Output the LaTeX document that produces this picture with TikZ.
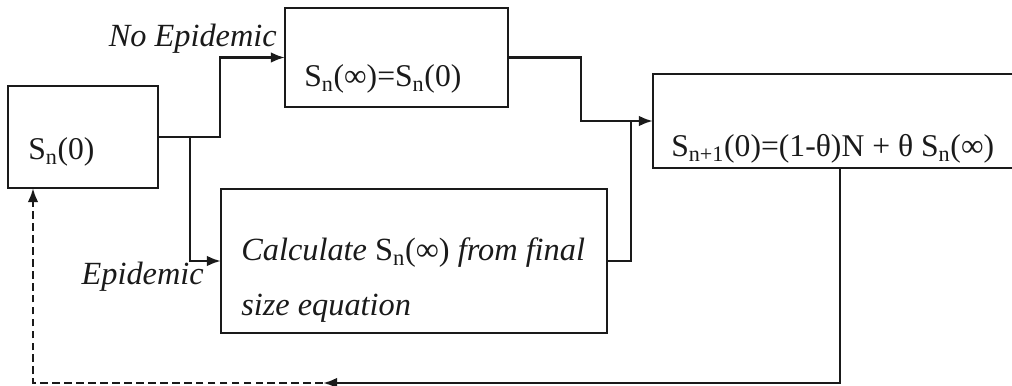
\documentclass[tikz,border=0pt]{standalone}
\usepackage{fontspec}
\setmainfont{Liberation Serif}
\usetikzlibrary{arrows.meta,calc}
\definecolor{ink}{HTML}{1A1A1A}
\newcommand{\px}{0.025cm}

\begin{document}
\begin{tikzpicture}[x=\px,y=-\px,>={Latex[length=10pt,width=7.5pt]},line width=1.8pt,every node/.style={font=\fontsize{22.5}{27}\selectfont,text=ink},box/.style={draw=ink,line width=1.8pt,outer sep=0pt,inner sep=0pt},txt/.style={anchor=base west,inner sep=0pt},lbl/.style={anchor=base east,inner sep=0pt,font=\fontsize{23}{27}\selectfont\itshape},flow/.style={->,draw=ink,line width=1.8pt},fb/.style={->,draw=ink,line width=1.8pt,dash pattern=on 5.5pt off 3pt}]
\path[use as bounding box] (0,0) rectangle (1012,386);

\node[box,minimum width=150*\px,minimum height=102*\px] (start) at (83,137) {};
\node[box,minimum width=223*\px,minimum height=99*\px] (noepi) at (396.5,57.5) {};
\node[box,minimum width=386*\px,minimum height=144*\px] (finalsize) at (414,261) {};
\node[box,minimum width=374*\px,minimum height=94*\px] (next) at (840,121) {};

\node[txt] (starttxt) at (27,160) {S\textsubscript{n}(0)};
\node[txt] (noepitxt) at (303,87) {S\textsubscript{n}(∞)=S\textsubscript{n}(0)};
\node[txt,align=left,font=\fontsize{23}{39}\selectfont\itshape] (finalsizetxt) at (240,315) {Calculate \textup{S\textsubscript{n}(∞)} from final\\size equation};
\node[txt] (nexttxt) at (670,157) {S\textsubscript{n+1}(0)=(1-θ)N + θ S\textsubscript{n}(∞)};

\node[lbl] (noepilbl) at (278,47) {No Epidemic};
\node[lbl] (epilbl) at (205,285) {Epidemic};

\draw[flow] (start.east) -- ++(62,0) |- (noepi.west);
\draw[flow] (start.east) ++(32,0) |- (finalsize.west);
\draw[flow] (noepi.east) -- ++(73,0) |- (next.west);
\draw[draw=ink] (finalsize.east) -- ++(24,0) coordinate (join) -- (join |- next.west);
\coordinate (ret) at (323,383);
\draw[flow] (next.south) |- (ret);
\draw[fb] (ret) -| ($(start.south west)+(25,0)$);

\end{tikzpicture}
\end{document}
